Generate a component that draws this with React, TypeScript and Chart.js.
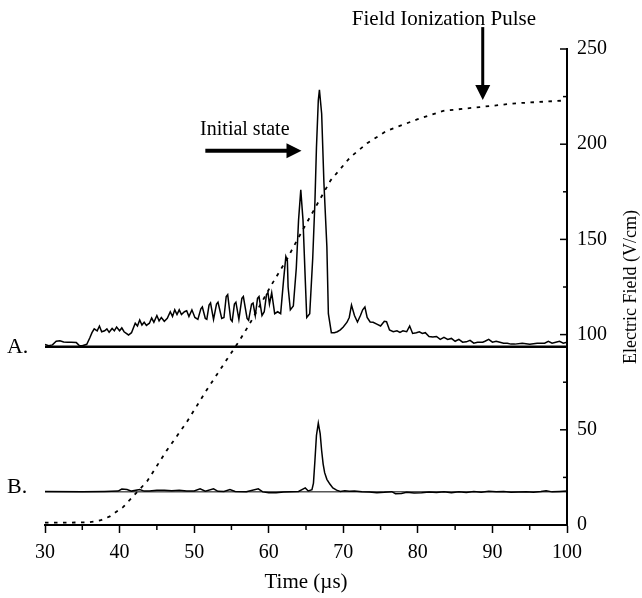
import React, { useEffect, useRef } from "react";
import { Chart, registerables } from "chart.js";

Chart.register(...registerables);

// ---- axis ranges / ticks ----
const X_MIN = 30;
const X_MAX = 100;
const X_MAJOR = 10;
const X_MINOR = 5;
const Y_MIN = 0;
const Y_MAX = 250;
const Y_MAJOR = 50;
const Y_MINOR = 25;

const X_TITLE = "Time (\u00b5s)";
const Y_TITLE = "Electric Field (V/cm)";

// ---- field ionization pulse (dashed), [time µs, field V/cm] ----
const PULSE: [number, number][] = [
  [30, 1.2], [32, 1.2], [34, 1.3], [36, 1.5], [37.5, 2.5], [38.7, 4.5], [40.5, 9.5],
  [41.8, 15], [43.7, 23], [46.3, 39], [49, 54], [51.7, 71], [54.4, 87], [56.1, 97],
  [57.5, 106], [60.2, 125], [62.5, 140], [64, 151], [66, 165], [68.3, 181], [70.9, 193],
  [73.2, 200.5], [75.8, 207], [79.9, 213], [83.4, 217.5], [88.3, 219.5], [93.2, 221.5], [100, 223],
];

// ---- trace A (offset on the plot), [time, plotted value] ----
const A_BASELINE = 93.6;
const TRACE_A: [number, number][] = [
  [30.0, 94.8], [30.5, 94.2], [31.0, 94.6], [31.5, 96.5], [32.0, 96.8], [32.5, 96.1], [33.0, 96.0],
  [33.5, 96.0], [34.2, 95.8], [34.6, 94.3], [35.0, 94.2], [35.6, 94.9], [36.0, 98.2], [36.3, 101],
  [36.6, 103], [37.0, 102], [37.3, 104.5], [37.6, 101.5], [38.0, 102], [38.3, 103], [38.6, 101.2],
  [39.0, 103.2], [39.3, 102], [39.6, 104], [40.0, 102], [40.3, 103.5], [40.6, 101.5], [41.2, 99.8],
  [41.6, 101], [42.1, 106], [42.4, 104.5], [42.7, 107.7], [43.0, 105], [43.3, 106.5], [43.6, 104.8],
  [44.0, 106], [44.3, 108.7], [44.6, 106.5], [45.0, 110], [45.3, 107.2], [45.6, 109], [46.0, 107],
  [46.4, 108.5], [46.8, 112], [47.1, 109.5], [47.4, 113], [47.7, 110.5], [48.0, 113], [48.3, 110.5],
  [48.7, 112], [49.0, 112.5], [49.3, 109.5], [49.7, 113], [50.1, 109], [50.5, 108], [50.9, 113.5],
  [51.1, 114.5], [51.5, 108.5], [51.7, 108], [52.0, 115.5], [52.2, 116.6], [52.6, 108], [53.0, 116],
  [53.2, 117], [53.7, 108.5], [54.0, 109], [54.3, 120], [54.5, 121], [54.9, 108], [55.1, 107],
  [55.4, 116], [55.6, 117], [56.0, 108], [56.4, 119], [56.6, 120], [57.1, 108.5], [57.3, 107.5],
  [57.7, 116], [57.9, 116.6], [58.2, 110], [58.5, 119], [58.7, 120], [59.1, 110], [59.4, 112],
  [59.7, 121], [59.9, 122], [60.1, 116], [60.4, 122], [60.8, 111], [61.2, 112], [61.6, 111],
  [62.0, 129], [62.3, 141], [62.5, 139], [62.6, 125], [62.9, 113], [63.3, 115], [63.7, 135],
  [64.0, 160], [64.3, 176], [64.6, 160], [64.9, 129], [65.1, 109], [65.5, 111], [65.9, 140],
  [66.2, 170], [66.4, 198], [66.65, 223], [66.8, 228.5], [67.1, 216], [67.4, 180], [67.8, 146],
  [68.0, 111], [68.4, 101], [68.8, 101], [69.2, 101.5], [69.6, 102.5], [70.0, 104], [70.5, 106.5],
  [70.8, 109], [71.1, 115.5], [71.5, 110], [71.9, 106.6], [72.3, 110], [72.6, 113], [72.9, 114.5],
  [73.2, 109], [73.6, 106.6], [74.0, 106.5], [74.5, 105.5], [75.0, 104.5], [75.5, 107], [75.8, 106.8],
  [76.2, 102.4], [76.7, 101.5], [77.2, 102], [77.6, 101.2], [78.0, 102], [78.5, 101.5], [78.9, 104.5],
  [79.3, 100.6], [79.8, 101], [80.2, 101.5], [80.6, 100.6], [81.0, 101], [81.5, 99], [82.0, 98.7],
  [82.5, 99], [83.0, 97.5], [83.5, 98.5], [84.0, 97.5], [84.5, 98], [85.0, 96.5], [85.5, 97.5],
  [86.0, 96], [86.5, 96.2], [87.0, 97], [87.5, 95.5], [88.0, 96], [88.7, 96], [89.0, 96.5],
  [89.5, 97.5], [90.0, 96], [90.5, 96.5], [91.0, 96], [91.5, 95.5], [92.0, 95.5], [92.5, 95],
  [93.0, 95], [94.0, 95.5], [95.0, 95], [96.0, 95.5], [97.0, 95.5], [97.5, 96.5], [98.0, 95.5],
  [98.5, 96], [99.0, 96.5], [99.5, 95.5], [100.0, 96],
];

// ---- trace B (offset on the plot), [time, plotted value] ----
const B_BASELINE = 17.4;
const TRACE_B: [number, number][] = [
  [30, 17.6], [35, 17.4], [38, 17.6], [39.8, 17.8], [40.3, 18.9], [41, 18.6], [41.6, 17.8],
  [42.7, 18.6], [43.3, 17.8], [44, 17.9], [45, 18.2], [46, 18.3], [47, 18.0], [48, 18.2],
  [49, 17.8], [50, 17.9], [50.8, 19], [51.5, 17.8], [52.6, 19], [53.2, 17.7], [54, 17.6],
  [54.8, 18.6], [55.5, 17.6], [57, 17.5], [58.6, 19], [59.2, 17.4], [60, 16.9], [61, 17.0],
  [62, 17.3], [63, 17.5], [64, 17.6], [64.9, 19.5], [65.3, 17.9], [65.8, 18.5], [66.0, 22],
  [66.2, 34], [66.4, 47], [66.65, 53.5], [66.9, 48], [67.1, 39], [67.3, 32], [67.5, 27.5],
  [67.8, 24], [68.2, 21.5], [68.6, 19.5], [69.1, 18.3], [69.6, 17.6], [70.2, 18.0], [70.8, 17.7],
  [71.5, 17.9], [72.5, 17.5], [73.5, 17.3], [74.5, 17.0], [75.5, 17.2], [76.5, 17.5], [77, 16.4],
  [77.8, 16.6], [78.5, 17.2], [79.5, 16.8], [80.5, 17.0], [81.5, 17.3], [82.5, 17.1], [83.5, 17.5],
  [84.5, 17.0], [85.5, 17.4], [86.5, 17.1], [87.5, 17.6], [88.5, 17.2], [89.5, 17.7], [90.5, 17.4],
  [91.5, 17.6], [92.5, 17.2], [93.5, 17.3], [94.5, 17.4], [95.5, 17.2], [96.5, 17.6], [97.2, 18.0],
  [98, 17.4], [99, 17.6], [100, 17.8],
];

// ---- annotations (in data units) ----
const LABEL_A = { text: "A.", t: 24.9, v: 90.3 };
const LABEL_B = { text: "B.", t: 24.9, v: 16.8 };
const INITIAL_LABEL = { text: "Initial state", t: 50.8, v: 204.8 };
const INITIAL_ARROW = { t0: 51.5, t1: 64.4, v: 196.6 };
const PULSE_LABEL = { text: "Field Ionization Pulse", t: 83.5, v: 262.6 };
const PULSE_ARROW = { t: 88.7, v0: 261.5, v1: 223.2 };

const FONT = "'Liberation Serif', 'Times New Roman', serif";

const pts = (arr: [number, number][]) => arr.map(([x, y]) => ({ x, y }));

const decorPlugin = {
  id: "decor",
  afterDraw(chart: any) {
    const { ctx, chartArea, scales } = chart;
    const xs = scales.x;
    const ys = scales.y;
    ctx.save();
    ctx.strokeStyle = "#000";
    ctx.fillStyle = "#000";
    // x minor ticks
    ctx.lineWidth = 1.5;
    for (let v = X_MIN + X_MINOR; v < X_MAX; v += X_MAJOR) {
      const px = xs.getPixelForValue(v);
      ctx.beginPath();
      ctx.moveTo(px, chartArea.bottom);
      ctx.lineTo(px, chartArea.bottom + 5);
      ctx.stroke();
    }
    // y ticks (inward)
    for (let v = Y_MIN; v <= Y_MAX; v += Y_MINOR) {
      const py = ys.getPixelForValue(v);
      const major = v % Y_MAJOR === 0;
      ctx.beginPath();
      ctx.moveTo(chartArea.right - (major ? 7 : 4), py);
      ctx.lineTo(chartArea.right, py);
      ctx.stroke();
    }
    // labels
    ctx.textBaseline = "alphabetic";
    ctx.font = `22px ${FONT}`;
    ctx.textAlign = "left";
    for (const l of [LABEL_A, LABEL_B]) {
      ctx.fillText(l.text, xs.getPixelForValue(l.t), ys.getPixelForValue(l.v));
    }
    ctx.font = `20px ${FONT}`;
    ctx.fillText(INITIAL_LABEL.text, xs.getPixelForValue(INITIAL_LABEL.t), ys.getPixelForValue(INITIAL_LABEL.v));
    ctx.textAlign = "center";
    ctx.font = `21px ${FONT}`;
    ctx.fillText(PULSE_LABEL.text, xs.getPixelForValue(PULSE_LABEL.t), ys.getPixelForValue(PULSE_LABEL.v));

    // horizontal arrow
    {
      const x0 = xs.getPixelForValue(INITIAL_ARROW.t0);
      const x1 = xs.getPixelForValue(INITIAL_ARROW.t1);
      const y = ys.getPixelForValue(INITIAL_ARROW.v);
      ctx.lineWidth = 4;
      ctx.beginPath();
      ctx.moveTo(x0, y);
      ctx.lineTo(x1 - 14, y);
      ctx.stroke();
      ctx.beginPath();
      ctx.moveTo(x1, y);
      ctx.lineTo(x1 - 15, y - 7.5);
      ctx.lineTo(x1 - 15, y + 7.5);
      ctx.closePath();
      ctx.fill();
    }
    // vertical arrow
    {
      const x = xs.getPixelForValue(PULSE_ARROW.t);
      const y0 = ys.getPixelForValue(PULSE_ARROW.v0);
      const y1 = ys.getPixelForValue(PULSE_ARROW.v1);
      ctx.lineWidth = 3;
      ctx.beginPath();
      ctx.moveTo(x, y0);
      ctx.lineTo(x, y1 - 14);
      ctx.stroke();
      ctx.beginPath();
      ctx.moveTo(x, y1);
      ctx.lineTo(x - 7.5, y1 - 15);
      ctx.lineTo(x + 7.5, y1 - 15);
      ctx.closePath();
      ctx.fill();
    }
    // y title, reading bottom-to-top
    ctx.font = `18px ${FONT}`;
    ctx.textAlign = "center";
    ctx.textBaseline = "alphabetic";
    ctx.translate(chartArea.right + 69, (chartArea.top + chartArea.bottom) / 2);
    ctx.rotate(-Math.PI / 2);
    ctx.fillText(Y_TITLE, 0, 0);
    ctx.restore();
  },
};

export default function App() {
  const ref = useRef<HTMLCanvasElement | null>(null);
  useEffect(() => {
    if (!ref.current) return;
    const chart = new Chart(ref.current, {
      type: "line",
      data: {
        datasets: [
          {
            label: "Field ionization pulse",
            data: pts(PULSE),
            borderColor: "#000",
            borderWidth: 1.8,
            borderDash: [3.5, 5.5],
            pointRadius: 0,
            tension: 0,
          },
          {
            label: "A baseline",
            data: pts([[X_MIN, A_BASELINE], [X_MAX, A_BASELINE]]),
            borderColor: "#000",
            borderWidth: 2.5,
            pointRadius: 0,
          },
          {
            label: "A",
            data: pts(TRACE_A),
            borderColor: "#000",
            borderWidth: 1.5,
            pointRadius: 0,
            tension: 0,
          },
          {
            label: "B baseline",
            data: pts([[X_MIN, B_BASELINE], [X_MAX, B_BASELINE]]),
            borderColor: "#000",
            borderWidth: 1,
            pointRadius: 0,
          },
          {
            label: "B",
            data: pts(TRACE_B),
            borderColor: "#000",
            borderWidth: 1.5,
            pointRadius: 0,
            tension: 0,
          },
        ],
      },
      options: {
        responsive: false,
        animation: false,
        devicePixelRatio: 1,
        layout: { padding: { left: 45, top: 49, right: 0, bottom: 0 } },
        plugins: { legend: { display: false }, tooltip: { enabled: false } },
        scales: {
          x: {
            type: "linear",
            min: X_MIN,
            max: X_MAX,
            afterFit: (s: any) => { s.height = 73; },
            ticks: {
              stepSize: X_MAJOR,
              color: "#000",
              font: { family: FONT, size: 20 },
              padding: 8,
              maxRotation: 0,
              autoSkip: false,
            },
            grid: { display: true, drawOnChartArea: false, drawTicks: true, tickLength: 8, tickWidth: 1.5, tickColor: "#000" },
            border: { display: true, color: "#000", width: 2 },
            title: {
              display: true,
              text: X_TITLE,
              color: "#000",
              font: { family: FONT, size: 21 },
              padding: { top: 0, bottom: 3 },
            },
          },
          y: {
            type: "linear",
            position: "right",
            min: Y_MIN,
            max: Y_MAX,
            afterFit: (s: any) => { s.width = 75; },
            ticks: {
              stepSize: Y_MAJOR,
              color: "#000",
              font: { family: FONT, size: 20 },
              padding: 10,
            },
            grid: { display: false, drawTicks: false },
            border: { display: true, color: "#000", width: 2 },
          },
        },
      },
      plugins: [decorPlugin],
    });
    return () => chart.destroy();
  }, []);
  return (
    <div style={{ position: "fixed", left: 0, top: 0, width: 642, height: 598, background: "#fff" }}>
      <canvas ref={ref} width={642} height={598} style={{ display: "block" }} />
    </div>
  );
}
